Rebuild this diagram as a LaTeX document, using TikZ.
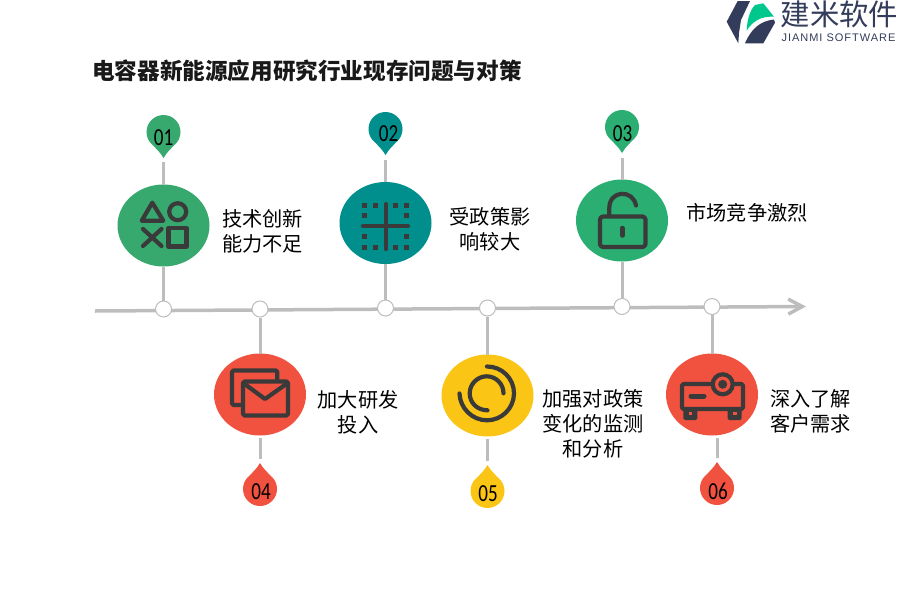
\documentclass[tikz,border=0pt]{standalone}
\usepackage{fontspec}
\setmainfont{Noto Sans CJK SC}
\newfontfamily\numfont[FakeStretch=0.78]{Carlito}
\newfontfamily\logofont[LetterSpace=9]{Liberation Sans}
\usetikzlibrary{arrows.meta, positioning, shapes.geometric}
\definecolor{cgreen}{HTML}{37A96F}
\definecolor{cteal}{HTML}{008F8C}
\definecolor{cmint}{HTML}{2BAE72}
\definecolor{cred}{HTML}{F15240}
\definecolor{cyellow}{HTML}{FAC515}
\definecolor{cgrey}{HTML}{BDBDBD}
\definecolor{cicon}{HTML}{3A3A3A}
\definecolor{clogo}{HTML}{333C5A}
\definecolor{cleaf}{HTML}{00C78C}
\tikzset{
  disc/.style={ellipse, fill=#1, minimum width=92pt, minimum height=82pt, inner sep=0pt, outer sep=0pt},
  dot/.style={circle, draw=cgrey, fill=white, line width=1pt, minimum size=16pt, inner sep=0pt},
  stem/.style={draw=cgrey, line width=3pt},
  icon/.style={draw=cicon, line width=4.2pt, line join=round, line cap=round},
  number/.style={font=\numfont\fontsize{24.5}{24.5}\selectfont, text=black, inner sep=0pt},
  label/.style={font=\fontsize{20.2}{25}\selectfont, text=black, align=center, inner sep=0pt},
  title/.style={font=\fontsize{22.6}{26}\selectfont\bfseries, text=black!90, inner sep=0pt},
}
% marker: round head with its tip 26 below the centre
\newcommand{\pinshape}{(0,0) circle[radius=17]
  (0,26) .. controls (-3,20) and (-10,15) .. (-15.5,7) -- (15.5,7) .. controls (10,15) and (3,20) .. (0,26) -- cycle}
\begin{document}
\begin{tikzpicture}[x=1pt, y=-1pt]
  \useasboundingbox (0,0) rectangle (900,600);
  % logo
  \fill[clogo] (737.7,1) -- (750,1) -- (741,20) -- (739,33) -- (738.3,43.3) -- (726.7,21.7) -- cycle;
  \fill[clogo] (745,43.3) -- (763.3,43.3) -- (775,22.7) -- (774,19.5) .. controls (760,21) and (751,29) .. (745,43.3) -- cycle;
  \fill[cleaf] (746.7,30.7) .. controls (747,20) and (750,10) .. (755,5) -- (763.3,3.3) -- (774,16.7) .. controls (760,16) and (752,22) .. (746.7,30.7) -- cycle;
  \node[font=\fontsize{29.4}{29}\selectfont, text=clogo, inner sep=0pt] (logoname) at (839.5,14) {建米软件};
  \node[font=\logofont\fontsize{11}{11}\selectfont, text=clogo, inner sep=0pt] (logosub) at (838.5,38) {JIANMI SOFTWARE};
  % heading
  \node[title, anchor=west] (heading) at (92,71) {电容器新能源应用研究行业现存问题与对策};
  % time line
  \coordinate (axisL) at (95,311);
  \coordinate (axisR) at (806,306.5);
  \draw[stem, line width=3.5pt, -{Straight Barb[length=14pt, width=15pt, line width=3.5pt]}] (axisL) -- (axisR);
  \node[dot] (d1) at (163.5,309) {};
  \node[dot] (d4) at (260,309) {};
  \node[dot] (d2) at (385.5,308) {};
  \node[dot] (d5) at (487.5,308) {};
  \node[dot] (d3) at (622,306.5) {};
  \node[dot] (d6) at (712,306.5) {};
  % discs
  \node[disc=cgreen] (e1) at (163.5,225.5) {};
  \node[disc=cteal] (e2) at (385.5,223) {};
  \node[disc=cmint] (e3) at (622,220.5) {};
  \node[disc=cred] (e4) at (260,394.5) {};
  \node[disc=cyellow] (e5) at (487.5,395.5) {};
  \node[disc=cred] (e6) at (712,394.5) {};
  % markers above
  \fill[cgreen, shift={(163.5,132)}] \pinshape;
  \fill[cteal, shift={(385.5,129)}] \pinshape;
  \fill[cmint, shift={(622,127)}] \pinshape;
  \coordinate (t1) at (163.5,158);
  \coordinate (t2) at (385.5,156);
  \coordinate (t3) at (622,154);
  % markers below
  \fill[cred, shift={(260,489)}, yscale=-1] \pinshape;
  \fill[cyellow, shift={(487.5,491)}, yscale=-1] \pinshape;
  \fill[cred, shift={(717,488)}, yscale=-1] \pinshape;
  \coordinate (t4) at (260,463);
  \coordinate (t5) at (487.5,465);
  \coordinate (t6) at (717,462);
  \node[number] (n1) at (163.5,138) {01};
  \node[number] (n2) at (388.5,134) {02};
  \node[number] (n3) at (622.5,134) {03};
  \node[number] (n4) at (261,491.5) {04};
  \node[number] (n5) at (488,494) {05};
  \node[number] (n6) at (718,491.5) {06};
  % stems
  \draw[stem, shorten <=4pt] (t1) -- (e1);
  \draw[stem, shorten <=4pt] (t2) -- (e2);
  \draw[stem, shorten <=4pt] (t3) -- (e3);
  \draw[stem] (e1) -- (d1);
  \draw[stem] (e2) -- (d2);
  \draw[stem] (e3) -- (d3);
  \draw[stem] (d4) -- (e4);
  \draw[stem] (d5) -- (e5);
  \draw[stem] (d6) -- (e6);
  \draw[stem, shorten <=4pt, shorten >=2pt] (t4) -- (e4);
  \draw[stem, shorten <=4pt, shorten >=2pt] (t5) -- (e5);
  \draw[stem, shorten <=4pt, shorten >=2pt] (t6) -- (t6 |- e6.south);
  % labels
  \node[label] (l1) at (262.5,231) {技术创新\\能力不足};
  \node[label] (l2) at (490,229) {受政策影\\响较大};
  \node[label] (l3) at (747,213) {市场竞争激烈};
  \node[label] (l4) at (358,412) {加大研发\\投入};
  \node[label] (l5) at (593,424) {加强对政策\\变化的监测\\和分析};
  \node[label] (l6) at (810.5,411) {深入了解\\客户需求};
  % icon 1: shapes
  \draw[icon] (141.7,220.7) -- (163.3,220.7) -- (152.3,202.7) -- cycle;
  \draw[icon] (177.7,211.7) circle[radius=8.5];
  \draw[icon] (143,229) -- (161.5,246) (161.5,229) -- (143,246);
  \draw[icon] (168.5,228) rectangle (186.5,246.5);
  % icon 2: grid
  \draw[icon] (363,226) -- (408,226) (385.7,204) -- (385.7,249);
  \foreach \gx in {364.3,375,395.7,406.7} {
    \fill[cicon] (\gx-2.5,202.5) rectangle (\gx+2.5,207.5);
    \fill[cicon] (\gx-2.5,245) rectangle (\gx+2.5,250);
  }
  \foreach \gy in {215.7,236.7} {
    \fill[cicon] (361.8,\gy-2.5) rectangle (366.8,\gy+2.5);
    \fill[cicon] (404.2,\gy-2.5) rectangle (409.2,\gy+2.5);
  }
  % icon 3: open lock
  \draw[icon, rounded corners=3pt] (600,216.5) rectangle (645.5,247);
  \draw[icon, line width=4.5pt] (622.3,228) -- (622.3,235.5);
  \draw[icon] (609.3,216) -- (609.3,208) .. controls (609.3,190) and (633,189) .. (636,205.5);
  % icon 4: envelopes
  \draw[icon, rounded corners=1.5pt] (241,405) -- (232,405) -- (232,370.5) -- (277.3,370.5) -- (277.3,380);
  \draw[icon, rounded corners=1.5pt] (243,381.5) rectangle (288,415.5);
  \draw[icon] (244,383.5) -- (265,399) -- (287,383.5);
  % icon 5: rings
  \draw[icon] (487,366.5) .. controls (502,366.5) and (514,378.5) .. (514,393.3) .. controls (514,408) and (502,420.3) .. (487,420.3) .. controls (472,420.3) and (460,408) .. (459.5,393.5);
  \draw[icon] (503.5,393.3) .. controls (503.5,384) and (496,376.3) .. (486.7,376.3) .. controls (477.5,376.3) and (469.7,384) .. (469.7,393.3) .. controls (469.7,403) and (477.5,410.3) .. (487.5,410.3);
  % icon 6: projector
  \draw[icon, rounded corners=1.5pt] (710,384) -- (682,384) -- (682,409) -- (743,409) -- (743,384) -- (735,384);
  \draw[icon, fill=cred] (722.7,384.3) circle[radius=10];
  \fill[cicon] (722.7,384.3) circle[radius=4.5];
  \draw[icon, line width=5pt] (691,396) -- (704,396);
  \fill[cicon, rounded corners=1.5pt] (683.3,408) rectangle (697.3,420);
  \fill[cicon, rounded corners=1.5pt] (727.7,408) rectangle (741.7,420);
  \fill[cred] (688.5,411.5) rectangle (692,415);
  \fill[cred] (733,411.5) rectangle (736.5,415);
\end{tikzpicture}
\end{document}
